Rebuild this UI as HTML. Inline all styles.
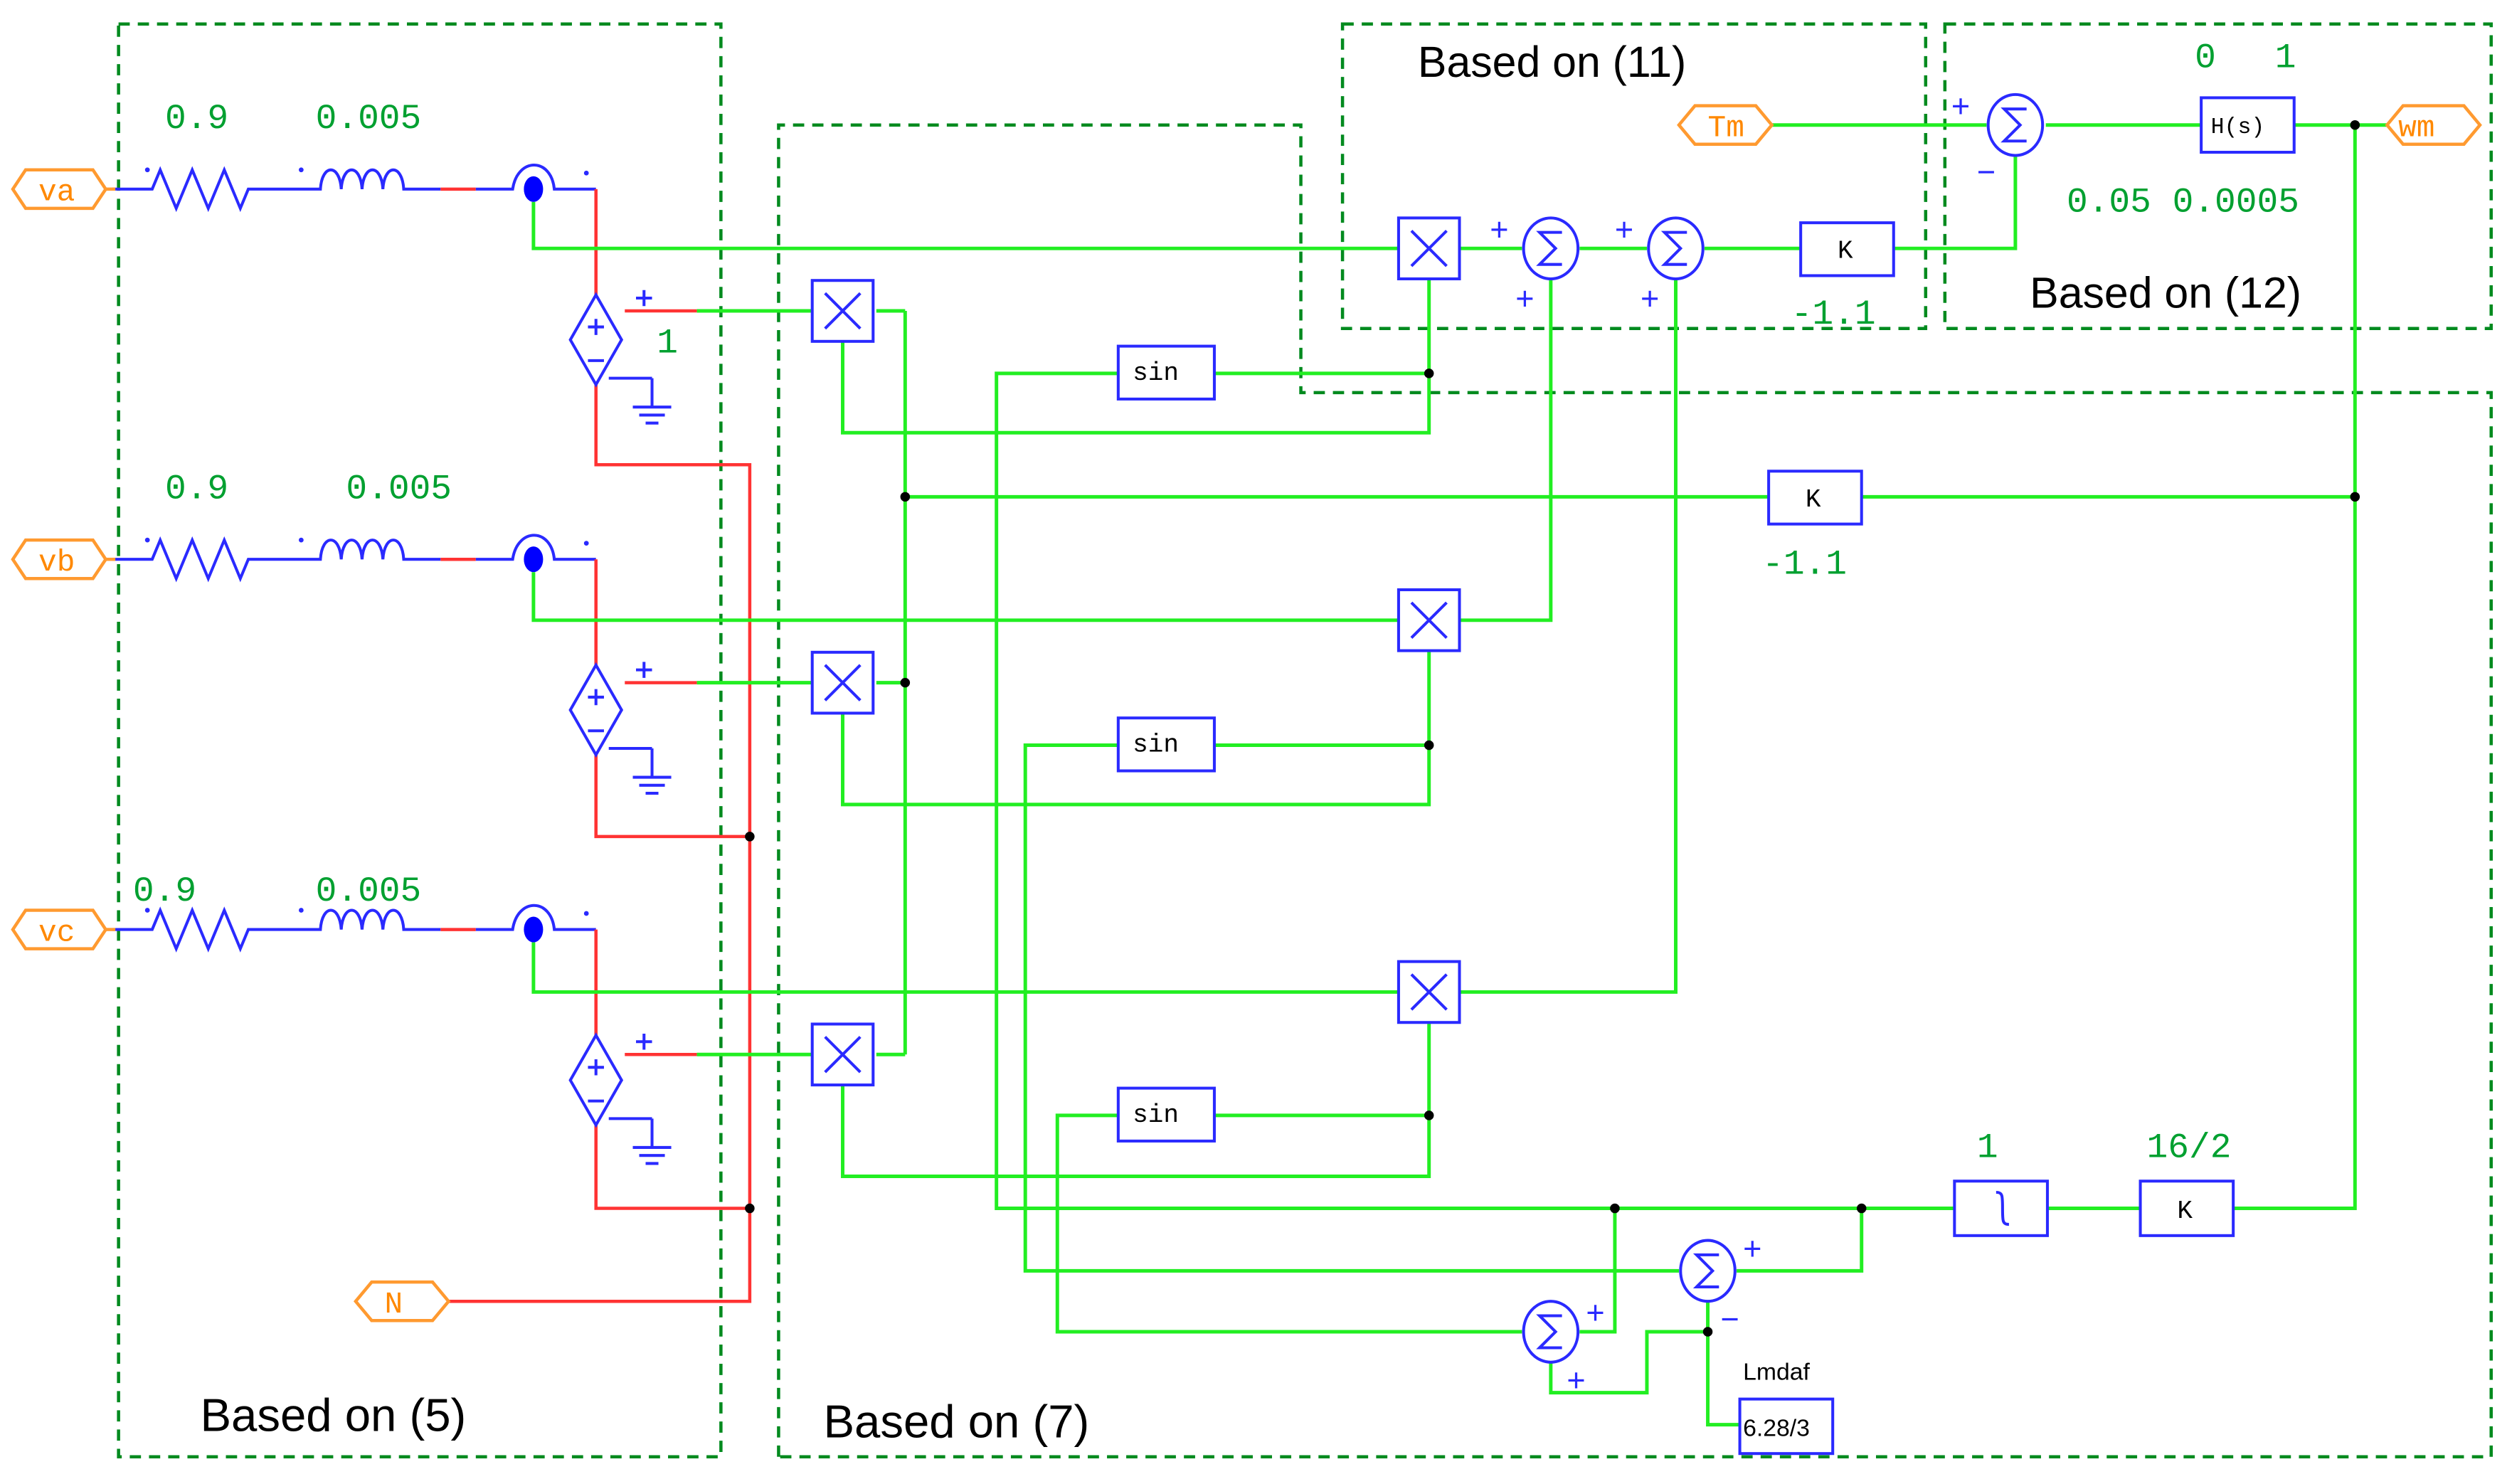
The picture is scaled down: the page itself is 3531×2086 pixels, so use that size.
<!DOCTYPE html>
<html><head><meta charset="utf-8"><style>
html,body{margin:0;padding:0;background:#fff;}
svg{display:block;}
.g{stroke:#22ee22;stroke-width:2.2;fill:none}
.b{stroke:#2a2aff;stroke-width:1.8;fill:none}
.r{stroke:#ff3333;stroke-width:2;fill:none}
.d{stroke:#008a1e;stroke-width:2;fill:none;stroke-dasharray:7,5}
.num{font-family:"Liberation Mono",monospace;fill:#00a030;font-size:22px}
.lab{font-family:"Liberation Sans",sans-serif;fill:#000;font-size:29px}
.mono{font-family:"Liberation Mono",monospace;font-size:16px;fill:#000}
.tag{font-family:"Liberation Mono",monospace;fill:#ff8800;font-size:19px}
</style></head><body>
<svg width="3531" height="2086" viewBox="0 0 1568 926" preserveAspectRatio="none" xmlns="http://www.w3.org/2000/svg">
<defs>
<g id="src">
<path class="b" d="M0,-28 L16,0 L0,28 L-16,0 Z"/>
<path class="b" d="M-5,-8 h10 M0,-13 v10 M-5,13 h10"/>
</g>
<g id="gnd">
<path class="b" d="M0,0 v18 M-12,18 h24 M-8,23 h16 M-4,28 h8"/>
</g>
<g id="mul">
<rect class="b" x="-19" y="-19" width="38" height="38"/>
<path class="b" d="M-11,-11 L11,11 M11,-11 L-11,11"/>
</g>
<g id="sum">
<ellipse class="b" cx="0" cy="0" rx="17" ry="19"/>
<path class="b" d="M7,-10 H-7 L3,0 L-7,10 H7"/>
</g>
<g id="rl">
<path class="b" d="M70,0 H95 l5,-12 l10,24 l10,-24 l10,24 l10,-24 l10,24 l5,-12 H200 c1,-16 12,-16 13,0 c1,-16 12,-16 13,0 c1,-16 12,-16 13,0 c1,-16 12,-16 13,0 H275"/>
<path class="r" d="M275,0 h22"/>
<path class="b" d="M297,0 h23 c3,-20 24,-20 26,0 h26"/>
<ellipse cx="333" cy="0" rx="6" ry="8" fill="#0000ff"/>
<path d="M8,0 l8,-12 h42 l8,12 l-8,12 h-42 z" fill="#fff" stroke="#ff9a30" stroke-width="2"/>
<path d="M66,0 h6" stroke="#ff9a30" stroke-width="2"/>
<circle cx="92" cy="-12" r="1.5" fill="#2a2aff"/><circle cx="188" cy="-12" r="1.5" fill="#2a2aff"/><circle cx="366" cy="-10" r="1.5" fill="#2a2aff"/>
</g>
</defs>

<!-- dashed boxes -->
<rect class="d" x="74" y="15" width="376" height="894"/>
<path class="d" d="M486,909 V78 H812 V245 H1555 V909 Z"/>
<rect class="d" x="838" y="15" width="364" height="190"/>
<rect class="d" x="1214" y="15" width="341" height="190"/>

<!-- phases -->
<use href="#rl" x="0" y="118"/>
<use href="#rl" x="0" y="349"/>
<use href="#rl" x="0" y="580"/>
<text class="tag" x="24" y="125">va</text>
<text class="tag" x="24" y="356">vb</text>
<text class="tag" x="24" y="587">vc</text>

<!-- red network -->
<path class="r" d="M372,118 V185 M372,240 V290 H468 V812 H280"/>
<path class="r" d="M372,349 V415 M372,470 V522 H468"/>
<path class="r" d="M372,580 V646 M372,701 V754 H468"/>
<path class="r" d="M390,194 h45 M390,426 h45 M390,658 h45"/>
<use href="#src" x="372" y="212"/>
<use href="#src" x="372" y="443"/>
<use href="#src" x="372" y="674"/>
<path class="b" d="M380,236 h27 M380,467 h27 M380,698 h27"/>
<use href="#gnd" x="407" y="236"/><use href="#gnd" x="407" y="467"/><use href="#gnd" x="407" y="698"/>
<path class="b" d="M397,186 h10 M402,181 v10 M397,418 h10 M402,413 v10 M397,650 h10 M402,645 v10"/>
<circle cx="468" cy="522" r="3"/><circle cx="468" cy="754" r="3"/>
<path d="M222,812 l10,-12 h38 l10,12 l-10,12 h-38 z" fill="#fff" stroke="#ff9a30" stroke-width="2"/>
<text class="tag" x="240" y="819">N</text>

<!-- green wires -->
<path class="g" d="M333,126 V155 H873 M333,357 V387 H873 M333,588 V619 H873"/>
<path class="g" d="M435,194 H507 M435,426 H507 M435,658 H507"/>
<path class="g" d="M565,194 V658 M547,194 H565 M547,426 H565 M547,658 H565 M565,310 H1104"/>
<path class="g" d="M526,213 V270 H892 V174 M892,233 H758"/>
<path class="g" d="M526,445 V502 H892 V406 M892,465 H758"/>
<path class="g" d="M526,677 V734 H892 V638 M892,696 H758"/>
<path class="g" d="M698,233 H622 V754 H1220 M698,465 H640 V793 H1048 M698,696 H660 V831 H950"/>
<path class="g" d="M911,155 H950 M986,155 H1028 M1064,155 H1124 M1182,155 H1258 V97"/>
<path class="g" d="M911,387 H968 V174 M911,619 H1046 V174"/>
<path class="g" d="M1106,78 H1240 M1277,78 H1374 M1432,78 H1490 M1470,78 V754 H1394 M1470,310 H1162 M1336,754 H1278"/>
<path class="g" d="M1162,754 V793 H1084 M1008,754 V831 H986 M1066,812 V889 H1086 M1066,831 H1028 V869 H968 V850"/>
<g fill="#000">
<circle cx="565" cy="310" r="3"/><circle cx="565" cy="426" r="3"/>
<circle cx="892" cy="233" r="3"/><circle cx="892" cy="465" r="3"/><circle cx="892" cy="696" r="3"/>
<circle cx="1470" cy="78" r="3"/><circle cx="1470" cy="310" r="3"/>
<circle cx="1008" cy="754" r="3"/><circle cx="1162" cy="754" r="3"/><circle cx="1066" cy="831" r="3"/>
</g>

<!-- blocks -->
<use href="#mul" x="526" y="194"/><use href="#mul" x="526" y="426"/><use href="#mul" x="526" y="658"/>
<use href="#mul" x="892" y="155"/><use href="#mul" x="892" y="387"/><use href="#mul" x="892" y="619"/>
<g>
<rect class="b" x="698" y="216" width="60" height="33" fill="#fff"/><text class="mono" x="707" y="237">sin</text>
<rect class="b" x="698" y="448" width="60" height="33" fill="#fff"/><text class="mono" x="707" y="469">sin</text>
<rect class="b" x="698" y="679" width="60" height="33" fill="#fff"/><text class="mono" x="707" y="700">sin</text>
</g>
<use href="#sum" x="968" y="155"/><use href="#sum" x="1046" y="155"/><use href="#sum" x="1258" y="78"/>
<use href="#sum" x="1066" y="793"/><use href="#sum" x="968" y="831"/>
<rect class="b" x="1124" y="139" width="58" height="33" fill="#fff"/><text class="mono" x="1147" y="161">K</text>
<rect class="b" x="1104" y="294" width="58" height="33" fill="#fff"/><text class="mono" x="1127" y="316">K</text>
<rect class="b" x="1374" y="61" width="58" height="34" fill="#fff"/><text class="mono" x="1380" y="83" style="font-size:14px">H(s)</text>
<rect class="b" x="1336" y="737" width="58" height="34" fill="#fff"/><text class="mono" x="1359" y="760">K</text>
<rect class="b" x="1220" y="737" width="58" height="34" fill="#fff"/><path class="b" d="M1246,744 c4,0 4,2 4,10 c0,8 0,10 4,10" stroke-width="1.5"/>
<rect class="b" x="1086" y="873" width="58" height="34" fill="#fff"/>
<text x="1088" y="896" style="font-family:'Liberation Sans',sans-serif;font-size:15px">6.28/3</text>
<text x="1088" y="861" style="font-family:'Liberation Sans',sans-serif;font-size:15px">Lmdaf</text>

<!-- signs -->
<g style="font-family:'Liberation Sans',sans-serif;font-size:20px;fill:#2a2aff">
<text x="930" y="150">+</text><text x="946" y="193">+</text>
<text x="1008" y="150">+</text><text x="1024" y="193">+</text>
<text x="1218" y="73">+</text><text x="1234" y="114">−</text>
<text x="1088" y="786">+</text><text x="1074" y="830">−</text>
<text x="990" y="826">+</text><text x="978" y="868">+</text>
</g>
<path d="M1048,78 l10,-12 h38 l10,12 l-10,12 h-38 z" fill="#fff" stroke="#ff9a30" stroke-width="2"/>
<text class="tag" x="1066" y="85">Tm</text>
<path d="M1490,78 l10,-12 h38 l10,12 l-10,12 h-38 z" fill="#fff" stroke="#ff9a30" stroke-width="2"/>
<text class="tag" x="1497" y="85">wm</text>

<!-- numbers -->
<text class="num" x="103" y="80">0.9</text><text class="num" x="197" y="80">0.005</text>
<text class="num" x="103" y="311">0.9</text><text class="num" x="216" y="311">0.005</text>
<text class="num" x="83" y="562">0.9</text><text class="num" x="197" y="562">0.005</text>
<text class="num" x="410" y="220">1</text>
<text class="num" x="1118" y="202">-1.1</text>
<text class="num" x="1100" y="358">-1.1</text>
<text class="num" x="1370" y="42">0</text><text class="num" x="1420" y="42">1</text>
<text class="num" x="1290" y="132">0.05 0.0005</text>
<text class="num" x="1234" y="722">1</text><text class="num" x="1340" y="722">16/2</text>

<!-- labels -->
<text class="lab" x="125" y="893">Based on (5)</text>
<text class="lab" x="514" y="897">Based on (7)</text>
<text class="lab" x="885" y="48" style="font-size:27px">Based on (11)</text>
<text class="lab" x="1267" y="192" style="font-size:27px">Based on (12)</text>
</svg>
</body></html>
